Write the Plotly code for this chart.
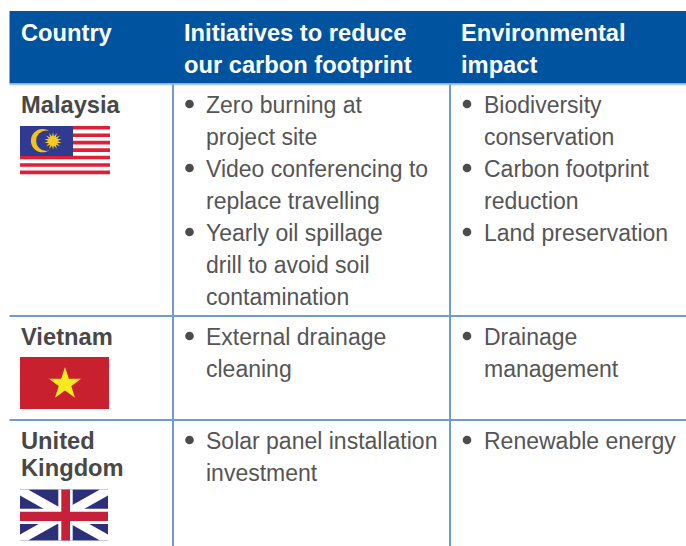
import numpy as np
import plotly.graph_objects as go

# ---- table content ----
headers = [["Country"], ["Initiatives to reduce", "our carbon footprint"], ["Environmental", "impact"]]
countries = [["Malaysia"], ["Vietnam"], ["United", "Kingdom"]]
initiatives = [
    [["Zero burning at", "project site"], ["Video conferencing to", "replace travelling"],
     ["Yearly oil spillage", "drill to avoid soil", "contamination"]],
    [["External drainage", "cleaning"]],
    [["Solar panel installation", "investment"]],
]
impacts = [
    [["Biodiversity", "conservation"], ["Carbon footprint", "reduction"], ["Land preservation"]],
    [["Drainage", "management"]],
    [["Renewable energy"]],
]

# ---- layout constants (pixel space of the page) ----
W, H = 686, 546
LEFT, HEAD_TOP, HEAD_BOT = 9.5, 11, 83.5
COL_X = [173, 450]
ROW_LINES = [316, 420]
ROW_TEXT_Y = [105, 337, 441]
LINE = 32
TEXT_X = [18.5, 181.5, 458.5]
BODY_X = [204, 481.5]
BULLET_X = [189.5, 467]
BLUE, GRID, INK = "#00539f", "#6f9ccf", "#484848"
BODY_FONT = dict(family="Liberation Sans", size=23.0, color="#555555")
BOLD_FONT = dict(family="Liberation Sans", size=23.7, color=INK, weight="bold")
HEAD_FONT = dict(family="Liberation Sans", size=23.7, color="white", weight="bold")

shapes, annotations = [], []


def rect(x0, y0, x1, y1, fill):
    shapes.append(dict(type="rect", x0=x0, y0=y0, x1=x1, y1=y1, fillcolor=fill,
                       line=dict(width=0), layer="above"))


def circle(cx, cy, r, fill):
    shapes.append(dict(type="circle", x0=cx - r, y0=cy - r, x1=cx + r, y1=cy + r,
                       fillcolor=fill, line=dict(width=0), layer="above"))


def poly(pts, fill):
    path = "M" + " L".join(f"{x:.2f},{y:.2f}" for x, y in pts) + " Z"
    shapes.append(dict(type="path", path=path, fillcolor=fill, line=dict(width=0), layer="above"))


def star(cx, cy, r_out, r_in, n, fill):
    ang = -np.pi / 2 + np.arange(2 * n) * np.pi / n
    rad = np.where(np.arange(2 * n) % 2 == 0, r_out, r_in)
    poly(list(zip(cx + rad * np.cos(ang), cy + rad * np.sin(ang))), fill)


def text(x, y, s, font):
    annotations.append(dict(x=x, y=y, text=s, showarrow=False, xanchor="left", yanchor="middle",
                            font=font, align="left"))


def hline(y, x0=LEFT, x1=W, color=GRID, width=2):
    shapes.append(dict(type="line", x0=x0, x1=x1, y0=y, y1=y, line=dict(color=color, width=width)))


def vline(x, y0, y1, color=GRID, width=2):
    shapes.append(dict(type="line", x0=x, x1=x, y0=y0, y1=y1, line=dict(color=color, width=width)))


# header band and grid
rect(LEFT, HEAD_TOP, W, HEAD_BOT, BLUE)
hline(84.5, color="#a9c6e6", width=1.5)
for cx in COL_X:
    vline(cx, HEAD_BOT + 1, H)
for ry in ROW_LINES:
    hline(ry)

# header text
for x, lines in zip(TEXT_X, headers):
    for i, s in enumerate(lines):
        text(x, 33 + i * LINE, s, HEAD_FONT)

# first column
for y, lines in zip(ROW_TEXT_Y, countries):
    for i, s in enumerate(lines):
        text(TEXT_X[0], y + i * 27, s, BOLD_FONT)

# bulleted columns
for bx, tx, column in zip(BULLET_X, BODY_X, (initiatives, impacts)):
    for y, items in zip(ROW_TEXT_Y, column):
        n = 0
        for item in items:
            circle(bx, y + n * LINE - 1, 4.3, "#4c4c4c")
            for s in item:
                text(tx, y + n * LINE, s, BODY_FONT)
                n += 1

# Malaysia flag
fx0, fx1, fy0, fy1 = 20, 110, 126, 174
rect(fx0, fy0, fx1, fy1, "white")
step = (fy1 - fy0 - 3.4) / 6
for k in range(7):
    rect(fx0, fy0 + k * step, fx1, fy0 + k * step + 3.6, "#e01f36")
rect(fx0, fy0, 73, 156, "#2f3a90")
circle(42.5, 140.7, 11.6, "#f3c316")
circle(46.3, 140.7, 10.2, "#2f3a90")
star(53, 141, 8.8, 4.6, 14, "#f7cb1e")

# Vietnam flag
rect(20, 357, 109, 409, "#c8202e")
star(65, 384, 17, 6.6, 5, "#f7ea1c")

# UK flag
ux0, ux1, uy0, uy1 = 20, 108, 489.5, 540.5
rect(ux0, uy0, ux1, uy1, "#2b3078")
a, b = 8, 6
poly([(ux0, uy0), (ux0 + a, uy0), (ux1, uy1 - b), (ux1, uy1), (ux1 - a, uy1), (ux0, uy0 + b)], "white")
poly([(ux1, uy0), (ux1, uy0 + b), (ux0 + a, uy1), (ux0, uy1), (ux0, uy1 - b), (ux1 - a, uy0)], "white")
rect(58.3, uy0, 72.7, uy1, "white")
rect(ux0, 508.7, ux1, 524, "white")
rect(61.3, uy0, 70, uy1, "#c6203a")
rect(ux0, 511.7, ux1, 521, "#c6203a")

fig = go.Figure()
fig.update_layout(
    width=W, height=H, margin=dict(l=0, r=0, t=0, b=0),
    paper_bgcolor="white", plot_bgcolor="white", showlegend=False,
    xaxis=dict(range=[0, W], visible=False, fixedrange=True),
    yaxis=dict(range=[H, 0], visible=False, fixedrange=True),
    shapes=shapes, annotations=annotations,
)
fig.write_html("out.html", config=dict(displayModeBar=False),
               post_script="document.body.style.margin='0';document.documentElement.style.overflow='hidden';")
